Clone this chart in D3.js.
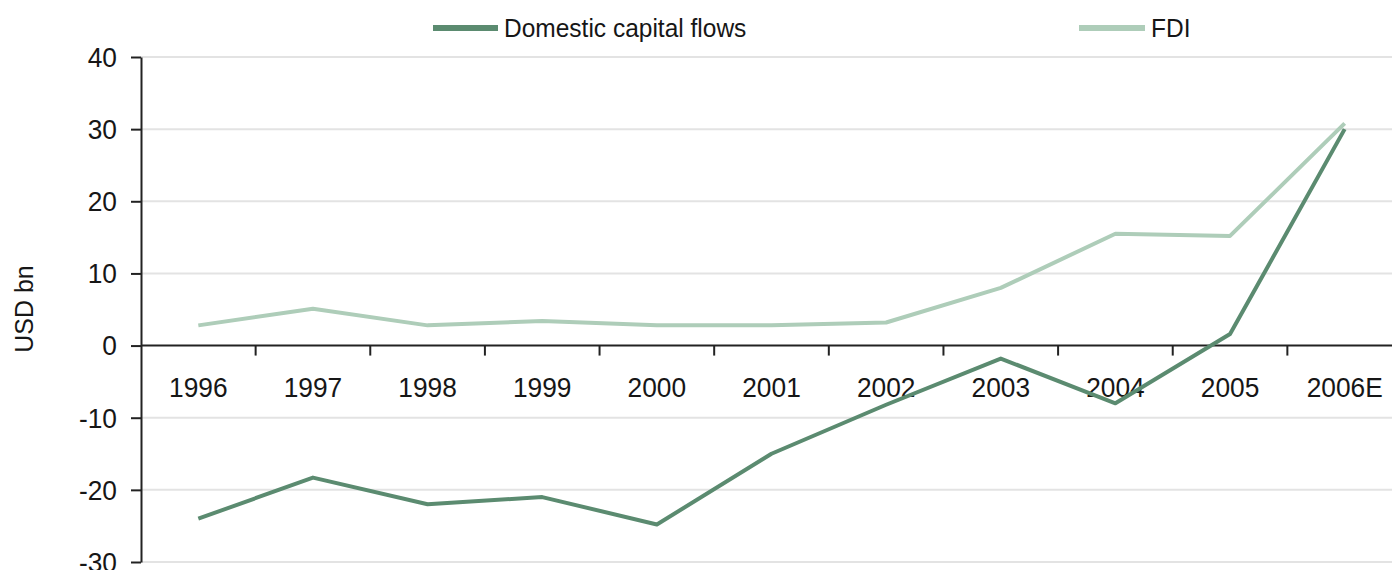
<!DOCTYPE html>
<html>
<head>
<meta charset="utf-8">
<script src="https://cdn.jsdelivr.net/npm/d3@7"></script>
<style>
  html, body { margin: 0; padding: 0; background: #fff; }
  svg { display: block; }
  text { font-family: "Liberation Sans", Arial, sans-serif; fill: #161616; }
</style>
</head>
<body>
<svg id="chart" width="1392" height="570"></svg>
<script>
// Capital flows, USD bn
const years = ["1996", "1997", "1998", "1999", "2000", "2001", "2002", "2003", "2004", "2005", "2006E"];
const domesticFlows = [-24, -18.3, -22, -21, -24.8, -15, -8.2, -1.8, -8, 1.6, 30];
const fdi = [2.8, 5.1, 2.8, 3.4, 2.8, 2.8, 3.2, 8, 15.5, 15.2, 30.8];
const yTicks = [-30, -20, -10, 0, 10, 20, 30, 40];
const seriesNames = ["Domestic capital flows", "FDI"];

const W = 1392, H = 570;
const margin = { left: 141, right: -10, top: 57, bottom: 8 };
const tickFont = 28, tickSqueeze = 0.94;
const legendFont = 25, legendSqueeze = 0.98;
const darkGreen = "#5b8b70", lightGreen = "#aecdb9";

const svg = d3.select("#chart");

const x = d3.scaleBand().domain(years).range([margin.left, W - margin.right]).paddingInner(0).paddingOuter(0);
const y = d3.scaleLinear().domain([-30, 40]).range([H - margin.bottom, margin.top]);

// slightly condensed text helper
function label(g, tx, ty, str, anchor, size, squeeze) {
  return g.append("text")
    .attr("transform", `translate(${tx},${ty}) scale(${squeeze},1)`)
    .attr("text-anchor", anchor)
    .attr("dominant-baseline", "central")
    .style("font-size", size + "px")
    .text(str);
}

// horizontal gridlines
svg.append("g").selectAll("line")
  .data(yTicks.filter(d => d !== 0))
  .join("line")
  .attr("x1", margin.left).attr("x2", W)
  .attr("y1", d => y(d)).attr("y2", d => y(d))
  .attr("stroke", "#e3e3e3").attr("stroke-width", 2);

// left axis
const yAxis = svg.append("g")
  .attr("transform", `translate(${margin.left},0)`)
  .call(d3.axisLeft(y).tickValues(yTicks).tickSize(10).tickSizeOuter(0).tickFormat(""));
yAxis.select(".domain").attr("stroke", "#222").attr("stroke-width", 2);
yAxis.selectAll(".tick line").attr("stroke", "#222").attr("stroke-width", 2);
const yLab = svg.append("g");
yTicks.forEach(v => label(yLab, 117, y(v), String(v), "end", tickFont, tickSqueeze));

// zero-line axis with category ticks at band edges
const zeroY = y(0);
const xAxis = svg.append("g")
  .attr("transform", `translate(0,${zeroY})`)
  .call(d3.axisBottom(x).tickSize(0).tickSizeOuter(0).tickFormat(""));
xAxis.select(".domain").attr("stroke", "#222").attr("stroke-width", 2).attr("d", `M${margin.left},0H${W}`);
xAxis.selectAll(".tick").remove();
svg.append("g").selectAll("line")
  .data(years.slice(1))
  .join("line")
  .attr("x1", d => x(d)).attr("x2", d => x(d))
  .attr("y1", zeroY).attr("y2", zeroY + 10)
  .attr("stroke", "#222").attr("stroke-width", 2);
const xLab = svg.append("g");
years.forEach(yr => label(xLab, x(yr) + x.bandwidth() / 2, zeroY + 42, yr, "middle", tickFont, tickSqueeze));

// y axis title
svg.append("text")
  .attr("transform", "translate(33,309) rotate(-90)")
  .attr("text-anchor", "middle")
  .style("font-size", "25px")
  .text("USD bn");

// series lines
const line = d3.line()
  .x((d, i) => x(years[i]) + x.bandwidth() / 2)
  .y(d => y(d));

svg.append("path").datum(fdi)
  .attr("d", line).attr("fill", "none")
  .attr("stroke", lightGreen).attr("stroke-width", 4).attr("stroke-linejoin", "round");
svg.append("path").datum(domesticFlows)
  .attr("d", line).attr("fill", "none")
  .attr("stroke", darkGreen).attr("stroke-width", 4).attr("stroke-linejoin", "round");

// legend
const legend = svg.append("g");
const legendItems = [
  { name: seriesNames[0], color: darkGreen, x0: 433, x1: 498 },
  { name: seriesNames[1], color: lightGreen, x0: 1079, x1: 1145 }
];
legendItems.forEach(it => {
  legend.append("line")
    .attr("x1", it.x0).attr("x2", it.x1).attr("y1", 28).attr("y2", 28)
    .attr("stroke", it.color).attr("stroke-width", 6);
  label(legend, it.x1 + 6, 28, it.name, "start", legendFont, legendSqueeze);
});
</script>
</body>
</html>
